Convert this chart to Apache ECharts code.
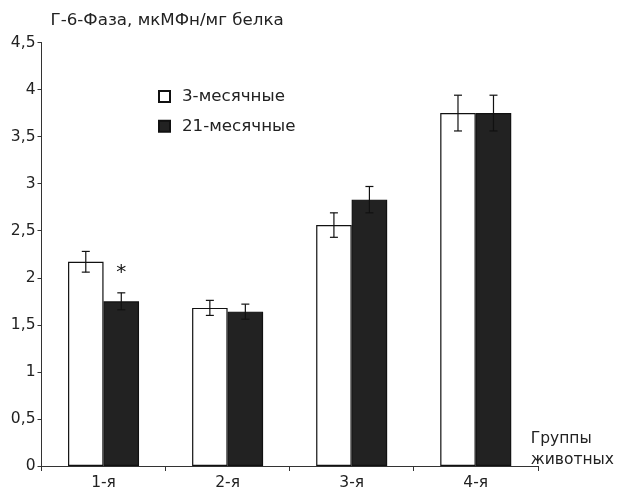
<!DOCTYPE html>
<html>
<head>
<meta charset="utf-8">
<script src="https://cdn.jsdelivr.net/npm/echarts@6/dist/echarts.min.js"></script>
<style>html,body{margin:0;padding:0;background:#fff}#c{width:617px;height:493px}</style>
</head>
<body>
<div id="c"></div>
<script>
const categories = ['1-я', '2-я', '3-я', '4-я'];
const seriesNames = ['3-месячные', '21-месячные'];
const values3 = [2.17, 1.68, 2.56, 3.75];
const err3 = [0.11, 0.08, 0.13, 0.19];
const values21 = [1.75, 1.64, 2.83, 3.75];
const err21 = [0.09, 0.08, 0.14, 0.19];
const yTickLabels = {0:'0',0.5:'0,5',1:'1',1.5:'1,5',2:'2',2.5:'2,5',3:'3',3.5:'3,5',4:'4',4.5:'4,5'};
const yTitle = 'Г-6-Фаза, мкМФн/мг белка';
const xTitle = 'Группы\nживотных';
const starCategory = '1-я';
const starValue = 2.1;

const FONT = '"DejaVu Sans", "Liberation Sans", Arial, sans-serif';
const TXT = '#222';
const FS = 15.5;
const FS_BIG = 16.7;
const BAR_W = 35.5;

function errSeries(vals, errs, idx) {
  return {
    type: 'custom',
    name: seriesNames[idx] + ' err',
    z: 5,
    silent: true,
    data: categories.map((c, i) => [i, vals[i] - errs[i], vals[i] + errs[i]]),
    renderItem: function (params, api) {
      const lo = api.coord([api.value(0), api.value(1)]);
      const hi = api.coord([api.value(0), api.value(2)]);
      const x = lo[0] + (idx === 0 ? -BAR_W / 2 : BAR_W / 2);
      const cap = 4;
      const st = { stroke: '#111', lineWidth: 1.2 };
      return {
        type: 'group',
        children: [
          { type: 'line', shape: { x1: x, y1: lo[1], x2: x, y2: hi[1] }, style: st },
          { type: 'line', shape: { x1: x - cap, y1: lo[1], x2: x + cap, y2: lo[1] }, style: st },
          { type: 'line', shape: { x1: x - cap, y1: hi[1], x2: x + cap, y2: hi[1] }, style: st }
        ]
      };
    }
  };
}

const chart = echarts.init(document.getElementById('c'), null, { renderer: 'canvas' });
chart.setOption({
  animation: false,
  backgroundColor: '#fff',
  textStyle: { fontFamily: FONT, color: TXT },
  grid: { left: 41.5, right: 79, top: 42.5, bottom: 27, containLabel: false },
  legend: {
    orient: 'vertical',
    left: 153,
    top: 83,
    itemWidth: 11,
    itemHeight: 11,
    itemGap: 12.7,
    icon: 'rect',
    data: seriesNames,
    textStyle: { fontFamily: FONT, fontSize: FS_BIG, color: TXT, padding: [0, 0, 0, 7] }
  },
  xAxis: {
    type: 'category',
    data: categories,
    name: xTitle,
    nameLocation: 'end',
    nameGap: -7,
    nameTextStyle: { fontFamily: FONT, fontSize: FS, color: TXT, align: 'left', verticalAlign: 'bottom', lineHeight: 21, padding: [0, 0, -4, 0] },
    axisLine: { lineStyle: { color: '#333', width: 1 } },
    axisTick: { show: true, length: 5, alignWithLabel: false, lineStyle: { color: '#333' } },
    axisLabel: { fontFamily: FONT, fontSize: FS, color: TXT, margin: 9 },
    splitLine: { show: false }
  },
  yAxis: {
    type: 'value',
    min: 0,
    max: 4.5,
    interval: 0.5,
    name: yTitle,
    nameLocation: 'end',
    nameGap: 13,
    nameTextStyle: { fontFamily: FONT, fontSize: FS_BIG, color: TXT, align: 'left', padding: [0, 0, 0, 9] },
    axisLine: { show: true, lineStyle: { color: '#333', width: 1 } },
    axisTick: { show: true, length: 4, lineStyle: { color: '#333' } },
    axisLabel: { fontFamily: FONT, fontSize: FS, color: TXT, margin: 6, formatter: v => yTickLabels[v] !== undefined ? yTickLabels[v] : String(v).replace('.', ',') },
    splitLine: { show: false }
  },
  series: [
    {
      name: seriesNames[0],
      type: 'bar',
      data: values3,
      barWidth: BAR_W,
      barGap: '0%',
      itemStyle: { color: '#fff', borderColor: '#111', borderWidth: 1.2 }
    },
    {
      name: seriesNames[1],
      type: 'bar',
      data: values21,
      barWidth: BAR_W,
      barGap: '0%',
      itemStyle: { color: '#222', borderColor: '#111', borderWidth: 1.2 },
      markPoint: {
        symbol: 'circle',
        symbolSize: 0,
        silent: true,
        data: [{ coord: [starCategory, starValue], value: '*' }],
        label: { show: true, position: 'inside', formatter: '*', fontSize: 20, offset: [0, 4], color: '#111', fontFamily: FONT }
      }
    },
    errSeries(values3, err3, 0),
    errSeries(values21, err21, 1)
  ]
});
</script>
</body>
</html>
